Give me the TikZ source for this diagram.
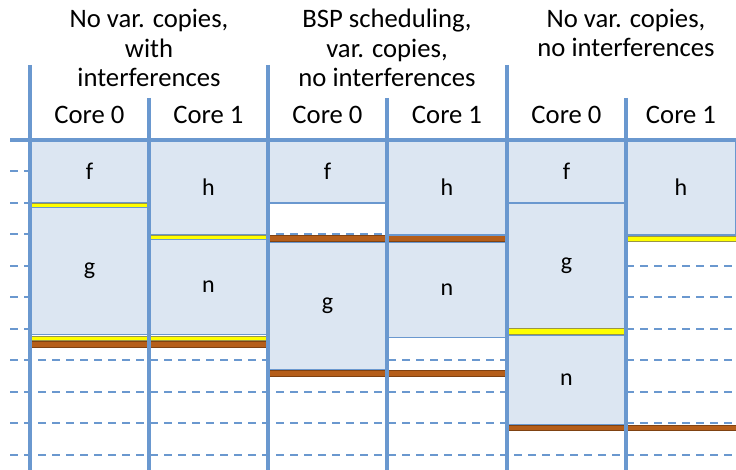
\documentclass[tikz,border=0pt]{standalone}
\usepackage{fontspec}
\setmainfont{Carlito}
\definecolor{lineblue}{HTML}{6A98CF}
\definecolor{taskfill}{HTML}{DCE6F2}
\definecolor{waityellow}{HTML}{FFFF00}
\definecolor{syncbrown}{HTML}{B55E1A}

\begin{document}
\begin{tikzpicture}[x=0.75pt,y=0.75pt,yscale=-1,
    task/.style={draw=lineblue, fill=taskfill, line width=0.8pt},
    ybar/.style={draw=yellow!55!black, fill=waityellow, line width=0.5pt},
    bbar/.style={draw=syncbrown!70!black, fill=syncbrown, line width=0.5pt},
    lbl/.style={font=\fontsize{18}{20}\selectfont},
    head/.style={font=\fontsize{20}{22}\selectfont, align=center},
    slotline/.style={draw=lineblue, line width=1.5pt, dash pattern=on 6pt off 4.5pt},
    coreline/.style={draw=lineblue, line width=3pt}]
  \useasboundingbox (0,0) rectangle (736,470);

  % time slots
  \foreach \k in {1,...,10}
    \draw[slotline] (10,{140+31.5*\k}) -- (736,{140+31.5*\k});

  % No var. copies, with interferences
  \draw[task] (30,140) rectangle (149,203) node[midway, lbl] (fA) {f};
  \draw[ybar] (30,203) rectangle (149,207.5);
  \draw[task] (30,207.5) rectangle (149,334.5) node[midway, lbl] (gA) {g};
  \draw[task] (149,140) rectangle (268,235) node[midway, lbl] (hA) {h};
  \draw[ybar] (149,235) rectangle (268,239.5);
  \draw[task] (149,239.5) rectangle (268,334.5) node[midway, lbl] (nA) {n};
  \draw[ybar] (30,336) rectangle (268,340);
  \draw[bbar] (30,341.5) rectangle (268,347);

  % BSP scheduling, var. copies, no interferences
  \draw[task] (268,140) rectangle (387,203) node[midway, lbl] (fB) {f};
  \draw[bbar] (268,235) rectangle (507,241);
  \draw[task] (268,242.5) rectangle (387,369.5) node[midway, lbl] (gB) {g};
  \draw[task] (387,140) rectangle (507,235) node[midway, lbl] (hB) {h};
  \draw[task] (387,242.5) rectangle (507,337.5) node[midway, lbl] (nB) {n};
  \draw[bbar] (268,370.5) rectangle (507,376.5);

  % No var. copies, no interferences
  \draw[task] (507,140) rectangle (626,203) node[midway, lbl] (fC) {f};
  \draw[task] (507,203) rectangle (626,328.5) node[midway, lbl] (gC) {g};
  \draw[ybar] (507,328.5) rectangle (626,334);
  \draw[task] (507,335.5) rectangle (626,424.5) node[midway, lbl] (nC) {n};
  \draw[task] (626,140) rectangle (736,235) node[midway, lbl] (hC) {h};
  \draw[ybar] (626,236) rectangle (736,241);
  \draw[bbar] (507,425) rectangle (736,430.5);

  % cores
  \draw[coreline] (10,140) -- (736,140);
  \foreach \x in {30,268,507}
    \draw[coreline] (\x,65) -- (\x,470);
  \foreach \x in {149,387,626}
    \draw[coreline] (\x,98) -- (\x,470);

  % Text Node
  \node[head] (headA) at (149,48) {No var. copies,\\with\\interferences};
  \node[head] (headB) at (387,48) {BSP scheduling,\\var. copies,\\no interferences};
  \node[head] (headC) at (626,33) {No var. copies,\\no interferences};
  \foreach \x/\c [count=\i] in {89.5/0,208.5/1,327.5/0,447/1,566.5/0,681/1}
    \node[head, anchor=base] (core\i) at (\x,124) {Core \c};
\end{tikzpicture}
\end{document}
